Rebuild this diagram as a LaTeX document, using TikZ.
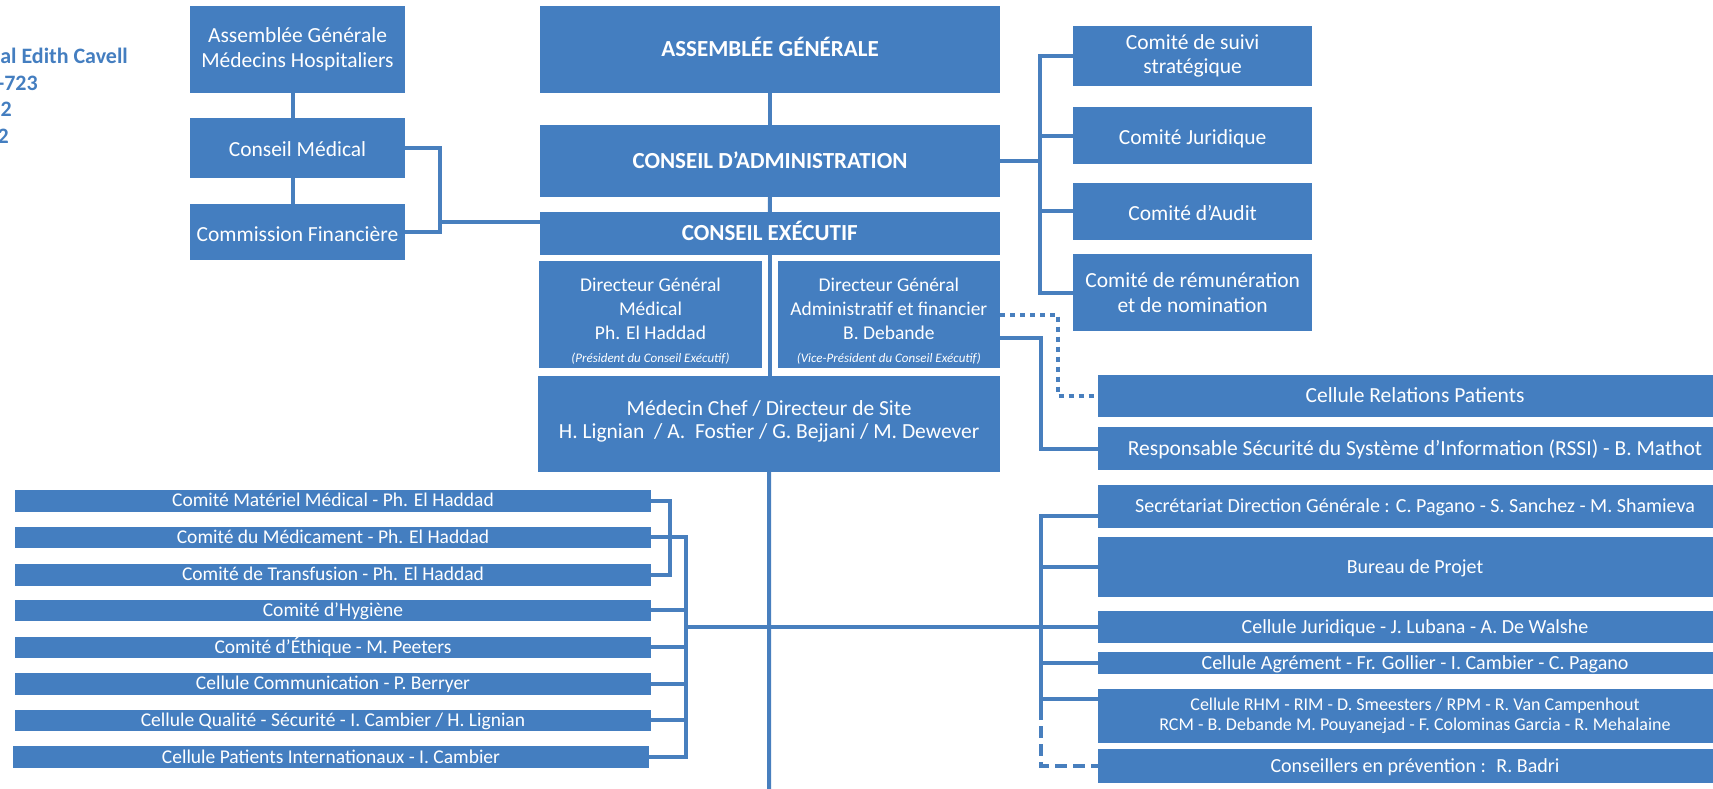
\documentclass[tikz,border=0pt]{standalone}
\usepackage{fontspec}
\setmainfont{Carlito}
\usetikzlibrary{calc}
\definecolor{boxblue}{RGB}{68,126,192}
\definecolor{lineblue}{RGB}{72,127,190}
\newcommand\bx[6][]{\node[obox,#1,minimum width={(#4-#2)*1pt},minimum height={(#5-#3)*1pt}] (#6) at ({(#2+#4)/2},{(#3+#5)/2})}
\tikzset{
  obox/.style={fill=boxblue,text=white,inner sep=0pt,outer sep=0pt,align=center},
  sl/.style={text height=#1pt,text depth=0pt},
  fbig/.style={font=\fontsize{21.5}{24.5}\selectfont},
  fbigs/.style={fbig,sl=18},
  fbold/.style={font=\fontsize{23}{27}\selectfont\bfseries,sl=14.6},
  fdg/.style={font=\fontsize{19.5}{23.8}\selectfont},
  fital/.style={font=\fontsize{13}{15}\selectfont\itshape},
  flist/.style={font=\fontsize{19.5}{22}\selectfont,sl=12.4},
  fright/.style={font=\fontsize{20}{22}\selectfont,sl=12.8},
  frhm/.style={font=\fontsize{18}{20.4}\selectfont},
  wtxt/.style={text=white,inner sep=0pt,align=center},
  htxt/.style={text=boxblue,inner sep=0pt,font=\fontsize{22}{26}\selectfont\bfseries,anchor=base east},
  conn/.style={draw=lineblue,line width=4pt},
  dotconn/.style={conn,dash pattern=on 5pt off 5pt},
  dashconn/.style={conn,dash pattern=on 12pt off 6pt}
}
\begin{document}
\begin{tikzpicture}[x=1pt,y=-1pt]
\useasboundingbox (0,0) rectangle (1713,789);

% header text (cut at left edge)
\node[htxt] (h1) at (128,64) {al Edith Cavell};
\node[htxt] (h2) at (38,90.5) {-723};
\node[htxt] (h3) at (12,117) {2};
\node[htxt] (h4) at (9,143.5) {2};

% left medical boxes
\bx[fbig]{190}{6}{405}{92.7}{agmh}{Assemblée Générale\\Médecins Hospitaliers};
\bx[fbigs]{190}{118.3}{405}{177.7}{cm}{Conseil Médical};
\bx[fbigs]{190}{204}{405}{260}{cf}{Commission Financière};

% central column
\bx[fbold]{540}{6}{1000}{92.7}{ag}{ASSEMBLÉE GÉNÉRALE};
\bx[fbold]{540}{125}{1000}{196.7}{ca}{CONSEIL D’ADMINISTRATION};
\bx[fbold]{540}{212}{999.5}{255}{ce}{CONSEIL EXÉCUTIF};
\bx{539.3}{261}{761.7}{368.3}{dgm}{};
\bx{777.7}{261}{1000}{368.3}{dga}{};
\node[wtxt,fdg] (dgmt) at ([yshift=-48pt]dgm.north) {Directeur Général\\Médical\\Ph. El Haddad};
\node[wtxt,fital] (dgmi) at ([yshift=9.3pt]dgm.south) {(Président du Conseil Exécutif)};
\node[wtxt,fdg] (dgat) at ([yshift=-48pt]dga.north) {Directeur Général\\Administratif et financier\\B. Debande};
\node[wtxt,fital] (dgai) at ([yshift=9.3pt]dga.south) {(Vice-Président du Conseil Exécutif)};
\bx{538.3}{376}{1000}{472}{mc}{};
\node[wtxt,font=\fontsize{21.5}{23.4}\selectfont] (mct) at ([yshift=-45.5pt]mc.north) {Médecin Chef / Directeur de Site\\H. Lignian \ / A. \ Fostier / G. Bejjani / M. Dewever};

% committees right
\bx[fbig]{1073.3}{26}{1312}{86}{css}{Comité de suivi\\stratégique};
\bx[fbigs]{1073.3}{107.3}{1312}{164}{cj}{Comité Juridique};
\bx[fbigs]{1073.3}{182.7}{1312}{240}{cau}{Comité d’Audit};
\bx[fbig]{1073.3}{254}{1312}{331}{cr}{Comité de rémunération\\et de nomination};

% right cells
\bx[fbig,sl=13.6]{1098}{374.7}{1732}{417.3}{crp}{Cellule Relations Patients};
\bx[fbig,sl=13.6]{1098}{427}{1732}{470}{rssi}{Responsable Sécurité du Système d’Information (RSSI) - B. Mathot};
\bx[fright]{1098}{485}{1732}{527.5}{rs}{Secrétariat Direction Générale : C. Pagano - S. Sanchez - M. Shamieva};
\bx[fright]{1098}{537.3}{1732}{596.7}{rbp}{Bureau de Projet};
\bx[fright]{1098}{611}{1732}{642.7}{rj}{Cellule Juridique - J. Lubana - A. De Walshe};
\bx[fright]{1098}{652.3}{1732}{674}{ra}{Cellule Agrément - Fr. Gollier - I. Cambier - C. Pagano};
\bx[frhm]{1098}{689.3}{1732}{742.7}{rhm}{Cellule RHM - RIM - D. Smeesters / RPM - R. Van Campenhout\\RCM - B. Debande M. Pouyanejad - F. Colominas Garcia - R. Mehalaine};
\bx[fright]{1098}{748.7}{1732}{783.3}{rcp}{Conseillers en prévention : \ R. Badri};

% left list
\bx[flist]{15}{490}{651}{511.5}{l1}{Comité Matériel Médical - Ph. El Haddad};
\bx[flist]{15}{526.5}{651}{547.5}{l2}{Comité du Médicament - Ph. El Haddad};
\bx[flist]{15}{564}{651}{585.5}{l3}{Comité de Transfusion - Ph. El Haddad};
\bx[flist]{15}{599.5}{651}{620.7}{l4}{Comité d’Hygiène};
\bx[flist]{15}{636.5}{651}{657.7}{l5}{Comité d’Éthique - M. Peeters};
\bx[flist]{15}{672.5}{651}{694.5}{l6}{Cellule Communication - P. Berryer};
\bx[flist]{15}{709.5}{651}{730.7}{l7}{Cellule Qualité - Sécurité - I. Cambier / H. Lignian};
\bx[flist]{13}{746}{649}{767.7}{l8}{Cellule Patients Internationaux - I. Cambier};

% coordinates
\coordinate (lj) at (440,222);
\coordinate (rb) at (1040,0);
\coordinate (ob) at (686,0);
\coordinate (rbb) at (1041,0);
\coordinate (bot) at (769.2,789);

% connectors
\draw[conn] ([xshift=-5pt]agmh.south) -- ([xshift=-5pt]cm.north);
\draw[conn] ([xshift=-5pt]cm.south) -- ([xshift=-5pt]cf.north);
\draw[conn] (cm.east) -- ++(35,0) |- (cf.east);
\draw[conn] (lj) -- (lj -| ce.west);

\draw[conn] (ag.south) -- (ca.north);
\draw[conn] (ca.south) -- (ce.north);
\draw[conn] (ce.south) -- (ce.south |- mc.north);
\draw[conn] (mc.south) -- (bot);

\draw[conn] (ca.east) -- (ca.east -| rb);
\draw[conn] (css.west) -- (css.west -| rb) -- (cr.west -| rb) -- (cr.west);
\draw[conn] (cj.west) -- (cj.west -| rb);
\draw[conn] (cau.west) -- (cau.west -| rb);

\draw[dotconn] (dga.east) -- ++(58,0) |- (crp.west);
\draw[conn] ([yshift=-23pt]dga.east) -- ++(41,0) |- (rssi.west);

\draw[conn] (l1.east) -- ++(19,0) |- (l3.east);
\draw[conn] (l2.east) -- (l2.east -| ob) -- (l8.east -| ob) -- (l8.east);
\foreach \i in {4,5,6,7} \draw[conn] (l\i.east) -- (l\i.east -| ob);
\draw[conn] (rj.west -| ob) -- (rj.west);

\draw[conn] ([yshift=-10pt]rs.west) -| ([yshift=8pt]rhm.west -| rbb);
\draw[conn] (rbp.west) -- (rbp.west -| rbb);
\draw[conn] (ra.west) -- (ra.west -| rbb);
\draw[conn] ([yshift=17pt]rhm.west) -- ([yshift=17pt]rhm.west -| rbb);
\draw[dashconn] ([yshift=8pt]rhm.west -| rbb) |- (rcp.west);
\end{tikzpicture}
\end{document}
